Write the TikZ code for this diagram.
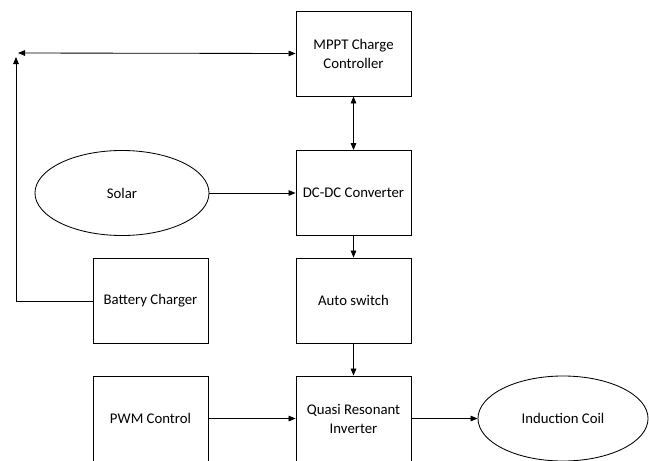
\documentclass[tikz,border=0pt]{standalone}
\usepackage{fontspec}
\setmainfont{Carlito}
\usetikzlibrary{arrows.meta,shapes.geometric}
\begin{document}
\begin{tikzpicture}[>={Triangle[length=5pt,width=4pt]}, x=0.025cm, y=-0.025cm, line width=.6pt,
    blok/.style={draw, minimum width=2.875cm, minimum height=2.125cm, align=center,
        font=\fontsize{10.5}{13.5}\selectfont},
    elips/.style={draw, ellipse, minimum height=2.125cm, font=\fontsize{10.5}{13.5}\selectfont}]
    \useasboundingbox (0,0) rectangle (649,460);
    \clip (0,0) rectangle (649,460);
    
    \node[blok] (mppt) at (353.5,53.5) {MPPT Charge\\Controller};
    \node[blok] (dcdc) at (353.5,193) {DC-DC Converter};
    \node[blok] (auto) at (353.5,300.5) {Auto switch};
    \node[blok] (quasi) at (353.5,418.5) {Quasi Resonant\\Inverter};
    \node[blok] (battery) at (150.5,301) {Battery Charger};
    \node[blok] (pwm) at (150.5,418.5) {PWM Control};
    
    \node[elips, minimum width=4.35cm] (solar) at (122,193) {Solar};
    \node[elips, minimum width=4.25cm] (coil) at (563,418.5) {Induction Coil};
    
    \coordinate (corner) at (16,301);
    \coordinate (top) at (16,57);
    \coordinate (start) at (18,53);
    
    \draw [<->] (mppt) -- (dcdc);
    \draw [->] (solar) -- (dcdc);
    \draw [->] (dcdc) -- (auto);
    \draw [->] (auto) -- (quasi);
    \draw [->] (pwm) -- (quasi);
    \draw [->] (quasi) -- (coil);
    
    \draw [->] (battery.west) -- (corner) -- (top);
    \draw [<->] (start) -- (mppt.west);
    
\end{tikzpicture}
\end{document}
